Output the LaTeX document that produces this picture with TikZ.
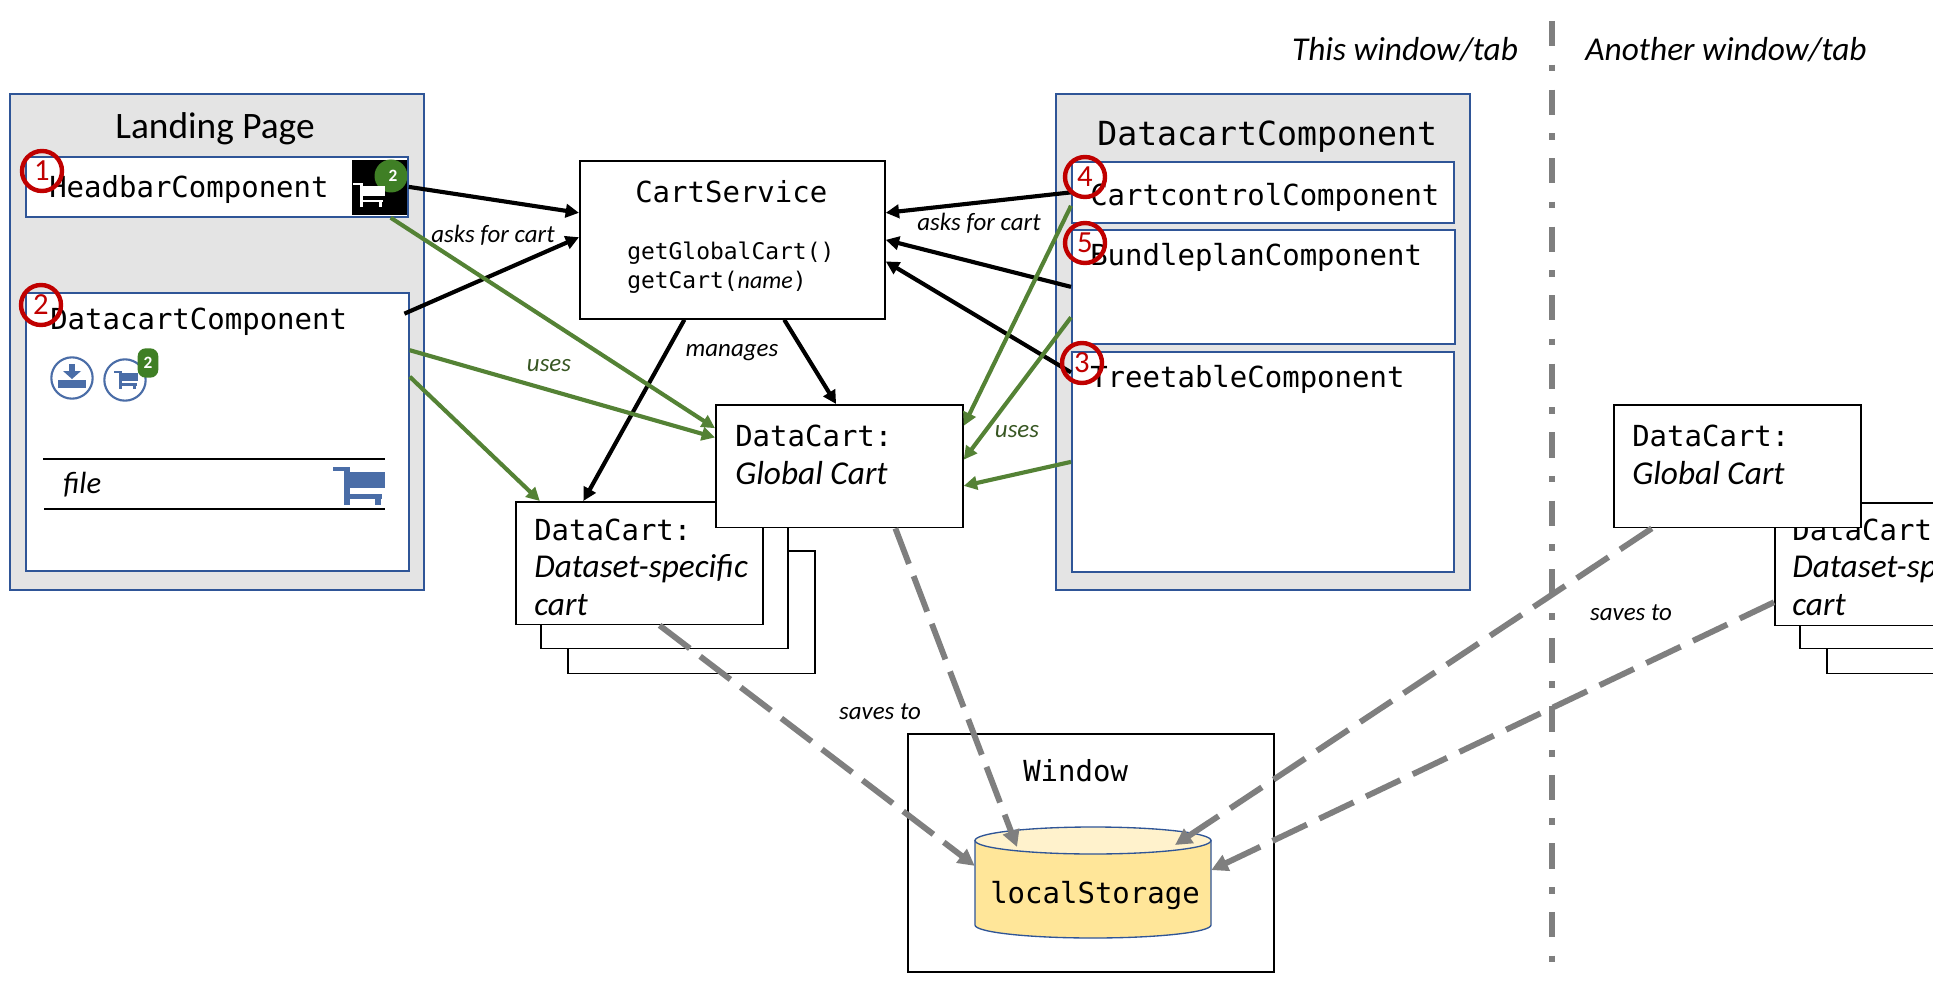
\documentclass[tikz,border=0pt]{standalone}
\usepackage{fontspec}
\setmainfont{Carlito}
\newfontfamily\codefont{DejaVu Sans Mono}
\usetikzlibrary{arrows.meta,calc}

\definecolor{frameblue}{HTML}{2F5597}
\definecolor{panelgrey}{HTML}{E4E4E4}
\definecolor{usesgreen}{HTML}{548235}
\definecolor{usestext}{HTML}{385723}
\definecolor{savesgrey}{HTML}{7F7F7F}
\definecolor{markred}{HTML}{C00000}
\definecolor{iconblue}{HTML}{4A6DA7}
\definecolor{badgegreen}{HTML}{3F7F25}
\definecolor{storebody}{HTML}{FFE699}
\definecolor{storetop}{HTML}{FFF2CC}

\newcommand{\cartname}[1]{{\rmfamily\itshape\fontsize{25}{28}\selectfont #1}}
\newcommand{\cartmark}[4]{%
  \begin{scope}[shift={(#1,#2)},xscale=#3,yscale=0.74*#3]
    \fill[#4] (0,0) rectangle (.3,.1);
    \fill[#4] (.22,0) rectangle (.32,1);
    \fill[#4] (.22,.7) rectangle (.95,.82);
    \fill[#4] (.8,.7) rectangle (.92,1);
    \fill[#4] (.3,.12) rectangle (1,.55);
  \end{scope}}

\begin{document}
\begin{tikzpicture}[
    x=0.75pt,
    y=-0.75pt,
    panel/.style={
        rectangle,
        draw=frameblue,
        fill=panelgrey,
        line width=1.3pt,
        anchor=north west,
        inner sep=0pt,
        minimum width=310.5pt,
        minimum height=372pt
    },
    part/.style={
        rectangle,
        draw=frameblue,
        fill=white,
        line width=1.3pt,
        anchor=north west,
        inner sep=0pt
    },
    box/.style={
        rectangle,
        draw,
        fill=white,
        line width=1.3pt,
        anchor=north west,
        inner sep=0pt
    },
    cart/.style={
        box,
        minimum width=185.25pt,
        minimum height=92pt
    },
    codetext/.style={
        font=\codefont\fontsize{21.75}{28}\selectfont,
        anchor=base west,
        align=left,
        inner sep=0pt
    },
    remark/.style={
        font=\itshape\fontsize{18.7}{22}\selectfont,
        inner sep=0pt
    },
    heading/.style={
        font=\itshape\fontsize{25}{29}\selectfont,
        inner sep=0pt
    },
    marker/.style={
        circle,
        draw=markred,
        line width=3.3pt,
        text=markred,
        inner sep=0pt,
        minimum size=30pt,
        font=\fontsize{23}{26}\selectfont
    },
    ring/.style={
        circle,
        draw=iconblue,
        line width=1.6pt,
        inner sep=0pt,
        minimum size=31pt
    },
    arrow/.style={->, >={Triangle[length=10pt,width=10pt]}, line width=3.1pt},
    uses/.style={arrow, draw=usesgreen},
    saves/.style={->, >={Triangle[length=12.5pt,width=12.5pt]}, draw=savesgrey,
        line width=4.4pt, dash pattern=on 28.5pt off 9.8pt}
]

\useasboundingbox (0,0) rectangle (1933,991);
\clip (0,0) rectangle (1933,991);

% Nodes
\node[panel] (landing) at (9,93) {};
\node[font=\fontsize{28}{32}\selectfont, inner sep=0pt, anchor=base] (landingtext) at (215,138.5) {Landing Page};

\node[part, minimum width=286.5pt, minimum height=45pt] (headbar) at (25,156) {};
\node[codetext] (headbartext) at (49,198) {HeadbarComponent};

\node[part, minimum width=287.25pt, minimum height=208.5pt] (dataleft) at (25,292) {};
\node[codetext] (datalefttext) at (50,329) {DatacartComponent};

\node[panel] (dataright) at (1055,93) {};
\node[codetext, font=\codefont\fontsize{24.9}{28}\selectfont] (datarighttext) at (1097,146) {DatacartComponent};

\node[part, minimum width=286.5pt, minimum height=45.75pt] (control) at (1071,161) {};
\node[codetext] (controltext) at (1090,206) {CartcontrolComponent};

\node[part, minimum width=287.25pt, minimum height=85.5pt] (bundle) at (1071,229) {};
\node[codetext] (bundletext) at (1090,266) {BundleplanComponent};

\node[part, minimum width=286.5pt, minimum height=165pt] (tree) at (1071,351) {};
\node[codetext] (treetext) at (1090,387) {TreetableComponent};

\node[box, minimum width=228.75pt, minimum height=118.5pt] (service) at (579,160) {};
\node[codetext] (servicetext) at (635,203) {CartService};
\node[codetext, font=\codefont\fontsize{17.2}{21.5}\selectfont] (methods) at (627,288) {getGlobalCart()\\getCart({\rmfamily\itshape\fontsize{18}{21.5}\selectfont name})};

\node[cart] (stackc) at (567,550) {};
\node[cart] (stackb) at (540,525) {};
\node[cart] (stack) at (515,501) {};
\node[codetext] (stacktext) at (534,615) {DataCart:\\\cartname{Dataset-specific}\\\cartname{cart}};

\node[cart] (global) at (715,404) {};
\node[codetext] (globaltext) at (735,484) {DataCart:\\\cartname{Global Cart}};

\node[cart] (otherstackc) at (1826,550) {};
\node[cart] (otherstackb) at (1799,525) {};
\node[cart] (otherstack) at (1774,502) {};
\node[codetext] (otherstacktext) at (1792,615) {DataCart:\\\cartname{Dataset-specific}\\\cartname{cart}};

\node[cart] (otherglobal) at (1613,404) {};
\node[codetext] (otherglobaltext) at (1632,484) {DataCart:\\\cartname{Global Cart}};

\node[box, minimum width=274.5pt, minimum height=178.5pt] (window) at (907,733) {};
\node[codetext] (windowtext) at (1023,781) {Window};

% Storage drum
\filldraw[draw=frameblue, fill=storebody, line width=1pt] (975,840.5) -- (975,925)
    arc [start angle=180, end angle=0, x radius=118, y radius=13] -- (1211,840.5) -- cycle;
\filldraw[draw=frameblue, fill=storetop, line width=1pt] (1093,840.5) ellipse [x radius=118, y radius=13.5];
\node[inner sep=0pt, minimum width=177pt, minimum height=83.25pt] (storage) at (1093,882.5) {};
\node[codetext] (storagetext) at (990,903) {localStorage};
\coordinate (storageleft) at (1017,847);
\coordinate (storageright) at (1175,845);

\node[heading] (thistab) at (1405,50) {This window/tab};
\node[heading] (othertab) at (1726,50) {Another window/tab};
\coordinate (dividertop) at (1552,21);
\coordinate (dividerbottom) at (1552,962);
\draw[savesgrey, line width=5.2pt, dash pattern=on 19pt off 13.7pt on 5pt off 13.7pt] (dividertop) -- (dividerbottom);

% Icons
\fill (352,160) rectangle (407,215);
\begin{scope}
    \clip (352,160) rectangle (407,215);
    \fill[badgegreen] (391,176) circle (16.5);
\end{scope}
\node[text=white, font=\bfseries\fontsize{13}{14}\selectfont, inner sep=0pt] (headbarbadge) at (393,176) {2};
\cartmark{353}{183}{32}{white}

\node[ring] (downloadicon) at (72,378) {};
\fill[iconblue] (69,364) rectangle (75,372);
\fill[iconblue] (63,371) -- (81,371) -- (72,379) -- cycle;
\fill[iconblue] (58,380) rectangle (86,388);
\node[ring] (carticon) at (125,380) {};
\cartmark{114}{371}{24}{iconblue}
\node[rectangle, rounded corners=6pt, fill=badgegreen, text=white, minimum width=15.5pt, minimum height=22pt,
    inner sep=0pt, font=\bfseries\fontsize{13}{14}\selectfont] (cartbadge) at (148,363) {2};

\draw[line width=0.8pt] (43,459) -- (385,459);
\draw[line width=0.8pt] (44,509) -- (385,509);
\node[font=\itshape\fontsize{23}{26}\selectfont, inner sep=0pt, anchor=base west] (filetext) at (63,493) {file};
\cartmark{333}{467}{52}{iconblue}

% Arrows
\draw[arrow] (headbar.east) -- (service.170);
\draw[arrow] ([shift={(-4pt,-1.5pt)}]dataleft.32) -- (service.179.25);
\draw[arrow] (control.west) -- (service.10);
\draw[arrow] (bundle.west) -- (service.-0.4);
\draw[arrow] (tree.155.4) -- (service.-8.4);
\draw[arrow] (service.-57.4) -- (global.93.3);
\draw[arrow] (service.-121.5) -- (stack.132.3);

\draw[uses] ($(headbar.south west)!0.953!(headbar.south east)$) -- (global.163.3);
\draw[uses] (dataleft.23.4) -- (global.167.7);
\draw[uses] (dataleft.16.9) -- (stack.148.6);
\draw[uses] (control.184) -- (global.18);
\draw[uses] (bundle.189.5) -- (global.3.7);
\draw[uses] (tree.west) -- (global.-9.2);

\draw[saves] (stack.-72.5) -- (storage.172.6);
\draw[saves] (global.-48.2) -- (storageleft);
\draw[saves, dash pattern=on 28.5pt off 10.5pt] (otherglobal.216.3) -- (storageright);
\draw[saves, dash pattern=on 28.5pt off 10.3pt] (otherstack.197.1) -- (storage.6);

% Labels
\node[remark] (asksleft) at (493,235) {asks for cart};
\node[remark] (asksright) at (979,223) {asks for cart};
\node[remark] (manages) at (732,353) {manages};
\node[remark, text=usestext] (usesleft) at (549,366) {uses};
\node[remark, text=usestext] (usesright) at (1017,432) {uses};
\node[remark] (savesleft) at (880,712) {saves to};
\node[remark] (savesright) at (1631,613) {saves to};

% Markers
\node[marker] (markone) at (42,171) {1};
\node[marker] (marktwo) at (41,305) {2};
\node[marker] (markfour) at (1085,177) {4};
\node[marker] (markfive) at (1085,243) {5};
\node[marker] (markthree) at (1082,363) {3};

\end{tikzpicture}
\end{document}
